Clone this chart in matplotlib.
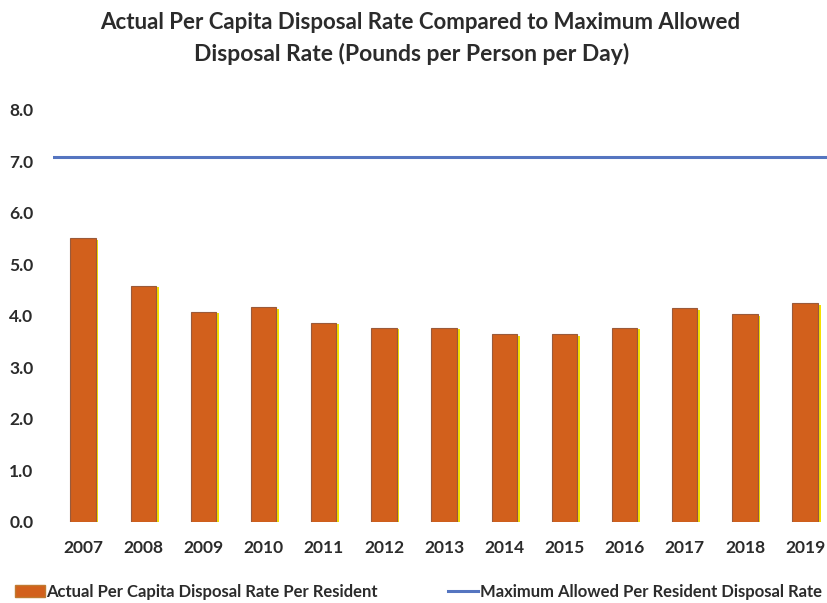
import matplotlib.pyplot as plt
import matplotlib.patheffects as pe
from matplotlib.lines import Line2D
from matplotlib.patches import Patch

years = ["2007", "2008", "2009", "2010", "2011", "2012", "2013",
         "2014", "2015", "2016", "2017", "2018", "2019"]
actual_rate = [5.5, 4.58, 4.08, 4.16, 3.86, 3.77, 3.76,
               3.64, 3.64, 3.76, 4.14, 4.03, 4.24]
max_allowed = 7.08
y_ticks = [0.0, 1.0, 2.0, 3.0, 4.0, 5.0, 6.0, 7.0, 8.0]

plt.rcParams['font.family'] = ['Lato', 'DejaVu Sans']
text_color = "#2b2b2b"
bar_color = "#d2601c"
line_color = "#5575c0"

fig = plt.figure(figsize=(8.28, 6.03), dpi=100)
ax = fig.add_axes([53 / 828, 0.135, 1 - 53 / 828, 0.683])

x = range(len(years))
bars = ax.bar(x, actual_rate, width=0.42, color=bar_color,
              edgecolor="#9a5a3a", linewidth=0.8, zorder=2)
for b in bars:
    b.set_path_effects([pe.SimplePatchShadow(offset=(2, -1), shadow_rgbFace="#f5e000", alpha=1.0),
                        pe.Normal()])
ax.set_xlim(-0.5, 12.38)
ax.axhline(max_allowed, color=line_color, linewidth=2.2, zorder=3)

ax.set_ylim(0, 8)
ax.set_yticks(y_ticks)
ax.set_yticklabels([f"{v:.1f}" for v in y_ticks], fontsize=12.5, fontweight="bold", color=text_color)
ax.set_xticks(list(x))
ax.set_xticklabels(years, fontsize=12.5, fontweight="bold", color=text_color)
ax.tick_params(axis="y", length=0, pad=14)
ax.tick_params(axis="x", length=0, pad=13)
for s in ax.spines.values():
    s.set_visible(False)

fig.text(0.507, 0.962, "Actual Per Capita Disposal Rate Compared to Maximum Allowed",
         ha="center", va="center", fontsize=16, fontweight="bold", color=text_color)
fig.text(0.497, 0.910, "Disposal Rate (Pounds per Person per Day)",
         ha="center", va="center", fontsize=16.5, fontweight="bold", color=text_color)

handles = [Patch(facecolor=bar_color, edgecolor="#c07a30"),
           Line2D([0], [0], color=line_color, linewidth=2.2)]
labels = ["Actual Per Capita Disposal Rate Per Resident",
          "Maximum Allowed Per Resident Disposal Rate"]
leg = fig.legend(handles, labels, loc="center", bbox_to_anchor=(0.505, 0.018), ncol=2,
                 frameon=False, fontsize=12, handlelength=1.8, handletextpad=0.1,
                 columnspacing=4.2)
for t in leg.get_texts():
    t.set_fontweight("bold")
    t.set_color(text_color)

plt.savefig("out.png", dpi=100)
plt.close()
